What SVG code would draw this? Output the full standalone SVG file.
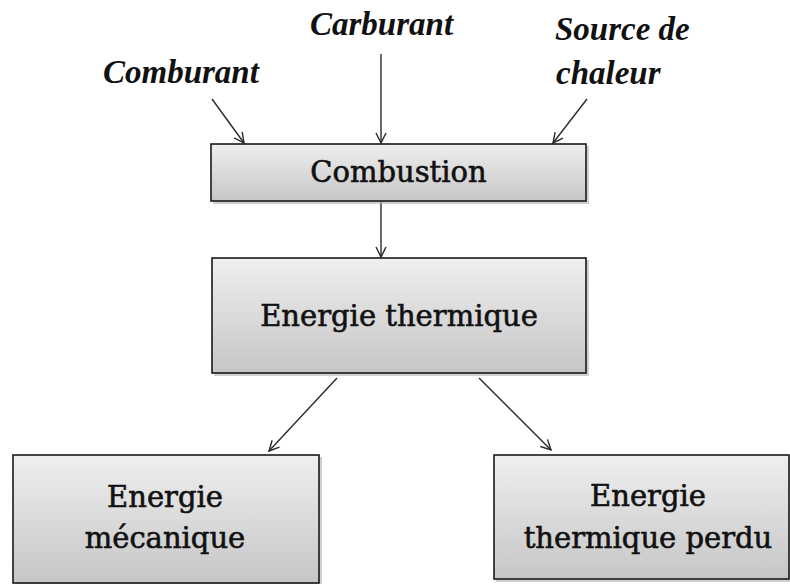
<svg xmlns="http://www.w3.org/2000/svg" width="790" height="584" viewBox="0 0 790 584">
  <style>
    .box { fill: url(#g); stroke: #1a1a1a; stroke-width: 1.6; }
    .shadow { fill: #b0b0b0; opacity: 0.6; }
    .t { font-family: "DejaVu Serif", "Liberation Serif", serif; font-size: 29px; fill: #111; stroke: #111; stroke-width: 0.6; text-anchor: middle; }
    .lbl { font-family: "Liberation Serif", "Times New Roman", serif; font-size: 33px; font-style: italic; font-weight: bold; fill: #111; }
    .c { stroke: #2a2a2a; stroke-width: 1.4; fill: none; marker-end: url(#ah); }
  </style>
  <defs>
    <linearGradient id="g" x1="0" y1="0" x2="0" y2="1">
      <stop offset="0" stop-color="#efefef"/>
      <stop offset="1" stop-color="#c6c6c6"/>
    </linearGradient>
    <marker id="ah" viewBox="0 0 12 12" refX="11" refY="6" markerWidth="12" markerHeight="12" markerUnits="userSpaceOnUse" orient="auto">
      <path d="M1,1 L11,6 L1,11" fill="none" stroke="#2a2a2a" stroke-width="1.4"/>
    </marker>
  </defs>

  <g id="labels">
    <text class="lbl" x="103" y="83">Comburant</text>
    <text class="lbl" x="310" y="35">Carburant</text>
    <text class="lbl" x="555" y="40">Source de</text>
    <text class="lbl" x="556" y="84">chaleur</text>
  </g>

  <g id="connectors">
    <line class="c" x1="212" y1="99" x2="244" y2="143"/>
    <line class="c" x1="381" y1="54" x2="381" y2="143"/>
    <line class="c" x1="587" y1="99" x2="553" y2="143"/>
    <line class="c" x1="381" y1="201" x2="381" y2="257"/>
    <line class="c" x1="337" y1="378" x2="269" y2="451"/>
    <line class="c" x1="479" y1="378" x2="551" y2="450"/>
  </g>

  <g id="combustion">
    <rect class="shadow" x="213" y="146" width="376" height="58"/>
    <rect class="box" x="211" y="144" width="375" height="57"/>
    <text class="t" x="398.5" y="182">Combustion</text>
  </g>

  <g id="energie-thermique">
    <rect class="shadow" x="214" y="260" width="375" height="116"/>
    <rect class="box" x="212" y="258" width="374" height="115"/>
    <text class="t" x="399" y="326">Energie thermique</text>
  </g>

  <g id="energie-mecanique">
    <rect class="shadow" x="15" y="457" width="307" height="130"/>
    <rect class="box" x="13" y="455" width="306" height="128"/>
    <text class="t" x="165" y="507">Energie</text>
    <text class="t" x="165" y="548">mécanique</text>
  </g>

  <g id="energie-thermique-perdu">
    <rect class="shadow" x="496" y="457" width="296" height="125"/>
    <rect class="box" x="494" y="455" width="295" height="124"/>
    <text class="t" x="648" y="506">Energie</text>
    <text class="t" x="648" y="548">thermique perdu</text>
  </g>
</svg>
